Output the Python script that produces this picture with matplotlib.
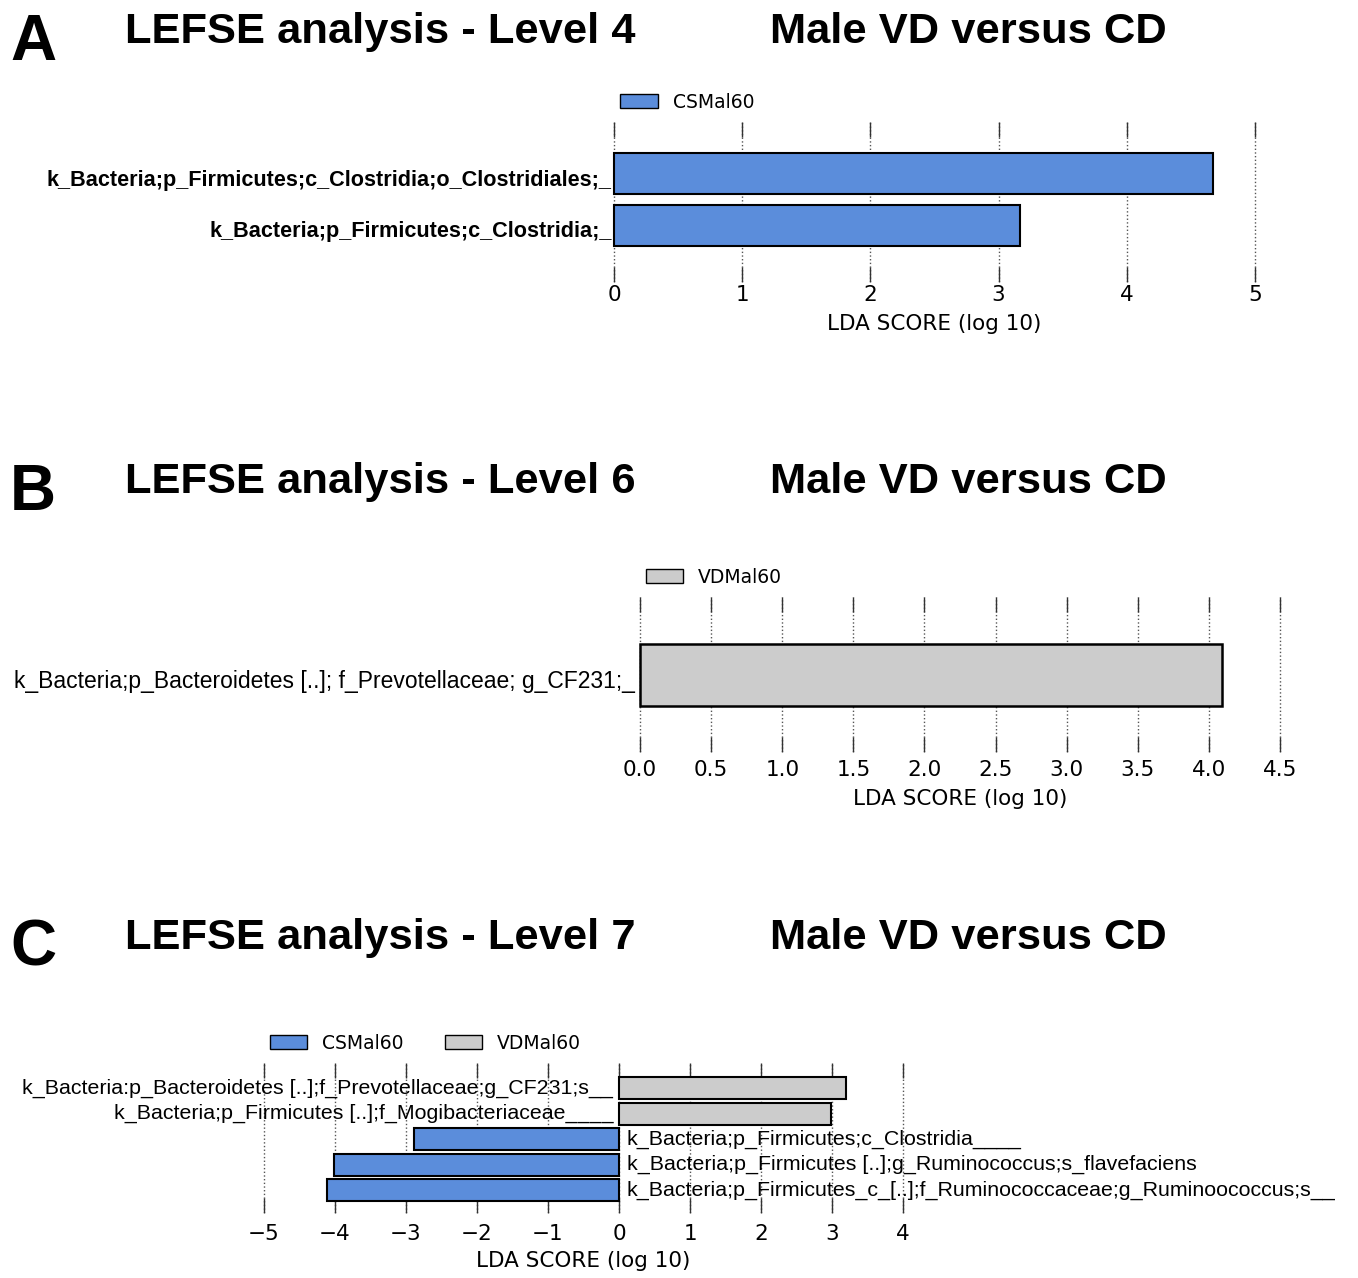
import matplotlib
matplotlib.use("Agg")
import matplotlib.pyplot as plt
from matplotlib.patches import Patch
from matplotlib.transforms import ScaledTranslation
import numpy as np

# ---- data ----
a_labels = ["k_Bacteria;p_Firmicutes;c_Clostridia;o_Clostridiales;_",
            "k_Bacteria;p_Firmicutes;c_Clostridia;_"]
a_scores = [4.67, 3.17]

b_labels = ["k_Bacteria;p_Bacteroidetes [..]; f_Prevotellaceae; g_CF231;_"]
b_scores = [4.09]

c_labels = ["k_Bacteria:p_Bacteroidetes [..];f_Prevotellaceae;g_CF231;s__",
            "k_Bacteria;p_Firmicutes [..];f_Mogibacteriaceae____",
            "k_Bacteria;p_Firmicutes;c_Clostridia____",
            "k_Bacteria;p_Firmicutes [..];g_Ruminococcus;s_flavefaciens",
            "k_Bacteria;p_Firmicutes_c_[..];f_Ruminococcaceae;g_Ruminoococcus;s__"]
c_scores = [3.20, 2.99, -2.89, -4.01, -4.11]

BLUE = "#5b8ddb"
GREY = "#cccccc"
W, H = 1358, 1278
fig = plt.figure(figsize=(W / 100, H / 100), dpi=100)

def px_axes(x0, y0, x1, y1):
    # pixel box (top-left origin) -> figure fraction
    return fig.add_axes([x0 / W, 1 - y1 / H, (x1 - x0) / W, (y1 - y0) / H])

def style(ax, ticks, pad, labelpad):
    for s in ax.spines.values():
        s.set_visible(False)
    ax.set_xticks(ticks)
    ax.tick_params(axis="x", direction="in", length=11, width=1, top=True, bottom=True,
                   color="#333333", labelsize=15.5, pad=pad)
    ax.tick_params(axis="y", length=0)
    ax.xaxis.grid(True, linestyle=":", color="#555555", linewidth=1)
    ax.set_axisbelow(True)
    ax.set_xlabel("LDA SCORE (log 10)", fontsize=15.5, labelpad=labelpad)

def nudge_labels(ax, dy_px):
    off = ScaledTranslation(0, -dy_px / 100, fig.dpi_scale_trans)
    for t in ax.get_yticklabels():
        t.set_transform(t.get_transform() + off)

def legend(ax, handles):
    bb = ax.get_position()
    dx = 7 / (bb.width * W)
    ax.legend(handles=handles, loc="lower left", bbox_to_anchor=(dx, 1.03),
              frameon=False, fontsize=13.5, ncol=len(handles), handlelength=2.0,
              handleheight=0.75, borderaxespad=0, borderpad=0.3, columnspacing=2.2)

def header(letter, ytop, level):
    fig.text(10 / W, 1 - ytop / H, letter, fontsize=46, fontweight="bold",
             family="Liberation Sans", va="top")
    fig.text(125 / W, 1 - (ytop - 1) / H, "LEFSE analysis - Level %d" % level, fontsize=31.3,
             fontweight="bold", family="Liberation Sans", va="top")
    fig.text(770 / W, 1 - (ytop - 1) / H, "Male VD versus CD", fontsize=31.3,
             fontweight="bold", family="Liberation Sans", va="top")

# ---- panel A ----
header("A", 13, 4)
ax = px_axes(614 - 6.4, 122, 1255 + 6.4, 282)
pos = np.arange(len(a_scores))[::-1]
ax.barh(pos, a_scores, height=0.8, color=BLUE, edgecolor="black", linewidth=1.5)
ax.set_xlim(-0.05, 5.05)
ax.set_ylim(-1.1, 2.0)
style(ax, np.arange(0, 6, 1), pad=2, labelpad=7)
ax.set_yticks(pos)
ax.set_yticklabels(a_labels, fontsize=15.6, fontweight="bold", family="Liberation Sans")
ax.tick_params(axis="y", pad=-3)
nudge_labels(ax, 4)
legend(ax, [Patch(facecolor=BLUE, edgecolor="black", label="CSMal60")])

# ---- panel B ----
header("B", 463, 6)
ax = px_axes(640 - 7, 597, 1280 + 7, 752)
ax.barh([0], b_scores, height=0.8, color=GREY, edgecolor="black", linewidth=1.8)
ax.set_xlim(-0.05, 4.55)
ax.set_ylim(-1.0, 1.0)
style(ax, np.arange(0, 4.6, 0.5), pad=6, labelpad=6)
ax.set_yticks([0])
ax.set_yticklabels(b_labels, fontsize=16.5, family="Liberation Sans")
ax.tick_params(axis="y", pad=-1)
nudge_labels(ax, 4)
legend(ax, [Patch(facecolor=GREY, edgecolor="black", label="VDMal60")])

# ---- panel C ----
header("C", 919, 7)
ax = px_axes(264 - 7.1, 1063, 903 + 7.1, 1213)
pos = np.arange(len(c_scores))[::-1]
cols = [GREY if v > 0 else BLUE for v in c_scores]
ax.barh(pos, c_scores, height=0.86, color=cols, edgecolor="black", linewidth=1.5)
ax.set_xlim(-5.1, 4.1)
ax.set_ylim(-0.9, 5.0)
style(ax, np.arange(-5, 5, 1), pad=8, labelpad=5)
ax.set_yticks([])
for p, v, lab in zip(pos, c_scores, c_labels):
    if v > 0:
        ax.text(-0.08, p, lab, ha="right", va="center", fontsize=15.4, family="Liberation Sans")
    else:
        ax.text(0.11, p, lab, ha="left", va="center", fontsize=15.4, family="Liberation Sans")
legend(ax, [Patch(facecolor=BLUE, edgecolor="black", label="CSMal60"),
            Patch(facecolor=GREY, edgecolor="black", label="VDMal60")])

fig.savefig("out.png", dpi=100)
